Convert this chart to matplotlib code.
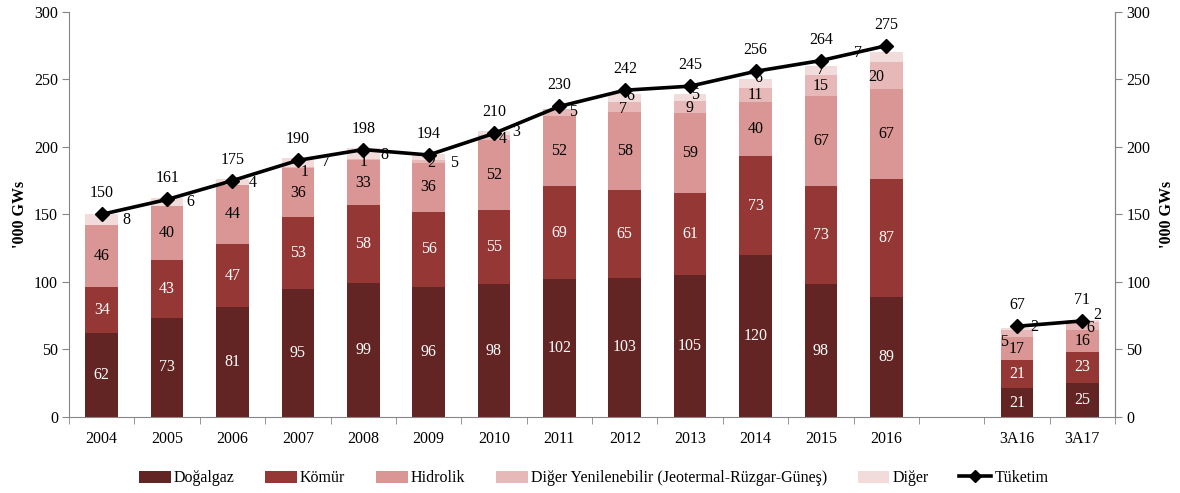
import numpy as np
import matplotlib
matplotlib.use("Agg")
import matplotlib.pyplot as plt
from matplotlib.lines import Line2D
from matplotlib.patches import Patch

plt.rcParams['font.family'] = ['Liberation Serif', 'DejaVu Serif']

# data ('000 GWs), empty slot between 2016 and the quarterly columns
categories = ['2004', '2005', '2006', '2007', '2008', '2009', '2010', '2011',
              '2012', '2013', '2014', '2015', '2016', '', '3A16', '3A17']
dogalgaz = [62, 73, 81, 95, 99, 96, 98, 102, 103, 105, 120, 98, 89, np.nan, 21, 25]
komur = [34, 43, 47, 53, 58, 56, 55, 69, 65, 61, 73, 73, 87, np.nan, 21, 23]
hidrolik = [46, 40, 44, 36, 33, 36, 52, 52, 58, 59, 40, 67, 67, np.nan, 17, 16]
diger_yen = [0, 0, 0, 1, 1, 2, 4, 5, 7, 9, 11, 15, 20, np.nan, 5, 6]
diger = [8, 6, 4, 7, 8, 5, 3, 0, 6, 5, 6, 7, 7, np.nan, 2, 2]
tuketim = [150, 161, 175, 190, 198, 194, 210, 230, 242, 245, 256, 264, 275, np.nan, 67, 71]

series = [
    ('Doğalgaz', dogalgaz, '#632523', 'white'),
    ('Kömür', komur, '#953735', 'white'),
    ('Hidrolik', hidrolik, '#d99694', 'black'),
    ('Diğer Yenilenebilir (Jeotermal-Rüzgar-Güneş)', diger_yen, '#e6b9b8', 'black'),
    ('Diğer', diger, '#f2dcdb', 'black'),
]

# label nudges in pixels (dx, dy) for the small top segments
dy_offsets = [(0, 0), (0, 0), (0, 0), (7, -4), (0, -2), (3, -1), (9, -2), (14, 0),
              (-2, -2), (-1, -1), (0, 0), (0, 0), (-10, -2), (0, 0), (-13, -8), (8, -2)]
dg_offsets = [(25, 0), (23, 0), (20, -1), (28, 0), (21, -1), (25, -6), (22, 1), (0, 0),
              (6, 2), (5, 3), (3, 5), (0, 1), (-28, 4), (0, 0), (17, 2), (15, 6)]

fs = 11.5
grey = '#868686'
fig = plt.figure(figsize=(11.8, 4.93), dpi=100)
ax = fig.add_axes([0.0585, 0.1548, 0.8865, 0.8209])
x = np.arange(len(categories))
bottom = np.zeros(len(categories))

for k, (name, vals, color, tcol) in enumerate(series):
    v = np.nan_to_num(np.array(vals, dtype=float))
    ax.bar(x, v, 0.5, bottom=bottom, color=color, label=name, zorder=2)
    for i in range(len(x)):
        if v[i] <= 0:
            continue
        off = (0, 0)
        if k == 3:
            off = dy_offsets[i]
        elif k == 4:
            off = dg_offsets[i]
        ax.annotate(f'{int(v[i])}', (x[i], bottom[i] + v[i] / 2), xytext=off,
                    textcoords='offset pixels', ha='center', va='center',
                    color=tcol, fontsize=fs, zorder=5)
    bottom += v

t = np.array(tuketim, dtype=float)
ax.plot(x, t, color='black', lw=2.6, marker='D', markersize=7.5, zorder=4, label='Tüketim')
for i in range(len(x)):
    if not np.isnan(t[i]):
        ax.annotate(f'{int(t[i])}', (x[i], t[i]), xytext=(0, 21), textcoords='offset pixels',
                    ha='center', va='center', fontsize=fs, zorder=5)

ax.set_xlim(-0.5, len(categories) - 0.5)
ax.set_ylim(0, 300)
ax.set_yticks(range(0, 301, 50))
ax.set_xticks(x)
ax.set_xticklabels(categories, fontsize=fs)
ax.set_xticks(np.arange(-0.5, len(categories), 1), minor=True)
ax.tick_params(axis='x', which='major', length=0, pad=10)
ax.tick_params(axis='x', which='minor', length=5, color=grey, direction='out')
ax.tick_params(axis='y', length=5, color=grey, labelsize=fs, pad=3)
ax.spines['top'].set_visible(False)
for s in ['left', 'bottom', 'right']:
    ax.spines[s].set_color(grey)
ax.set_ylabel("'000 GWs", fontsize=fs, fontweight='bold', labelpad=4)

ax2 = ax.twinx()
ax2.set_ylim(0, 300)
ax2.set_yticks(range(0, 301, 50))
ax2.tick_params(axis='y', length=5, color=grey, labelsize=fs, pad=3)
for s in ['top', 'left', 'bottom']:
    ax2.spines[s].set_visible(False)
ax2.spines['right'].set_color(grey)
ax2.set_ylabel("'000 GWs", fontsize=fs, fontweight='bold', labelpad=6, rotation=90)

handles = [Patch(facecolor=c, label=n) for n, _, c, _ in series]
handles.append(Line2D([0], [0], color='black', lw=2.6, marker='D', markersize=6, label='Tüketim'))
fig.legend(handles=handles, loc='center', bbox_to_anchor=(0.503, 0.03), ncol=6, frameon=False,
           fontsize=fs, handlelength=2.0, handleheight=0.8, handletextpad=0.2, columnspacing=1.9)

fig.savefig('out.png', dpi=100)
